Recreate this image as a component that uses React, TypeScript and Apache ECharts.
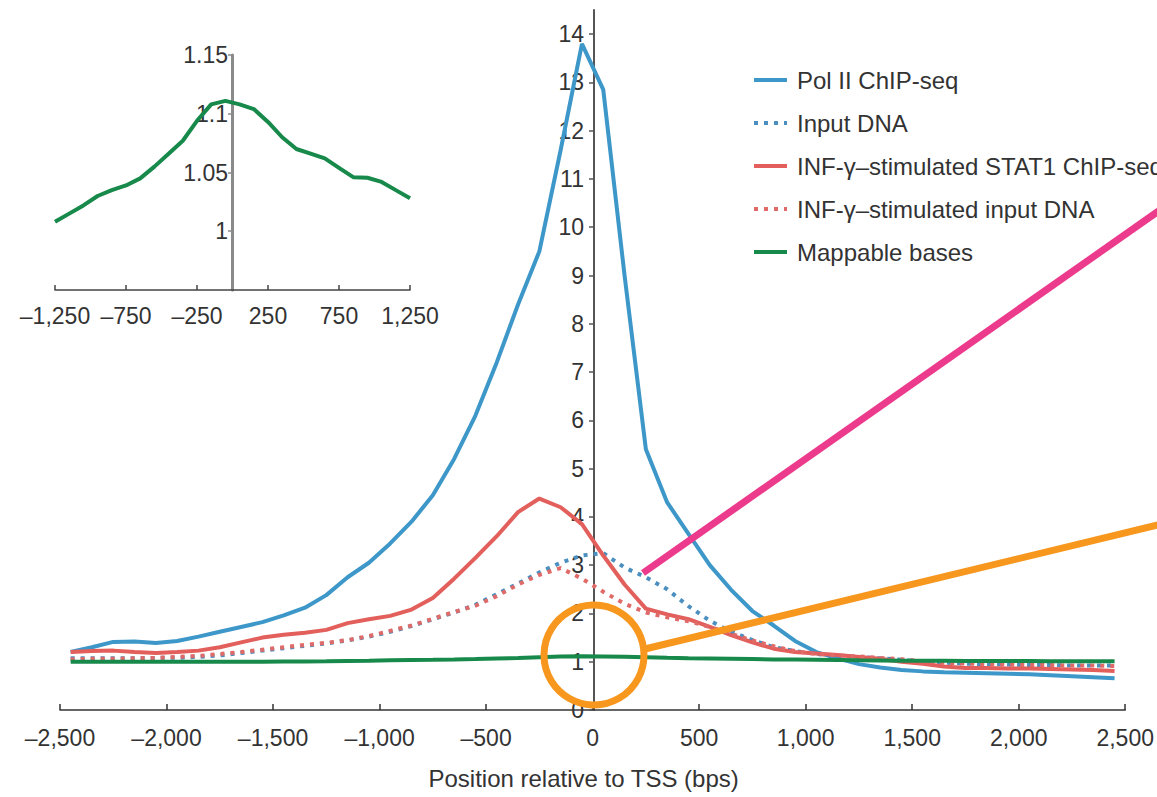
import React, { useEffect, useRef } from "react";
import * as echarts from "echarts";

// Positions relative to TSS (bps), bin centres
const positions = [
  -2450, -2350, -2250, -2150, -2050, -1950, -1850, -1750, -1650, -1550, -1450, -1350, -1250,
  -1150, -1050, -950, -850, -750, -650, -550, -450, -350, -250, -150, -50,
  50, 150, 250, 350, 450, 550, 650, 750, 850, 950, 1050, 1150, 1250,
  1350, 1450, 1550, 1650, 1750, 1850, 1950, 2050, 2150, 2250, 2350, 2450,
];

const polII = [
  1.2, 1.3, 1.41, 1.42, 1.39, 1.43, 1.52, 1.62, 1.72, 1.82, 1.96, 2.12, 2.38, 2.75, 3.05, 3.45, 3.9,
  4.45, 5.2, 6.1, 7.2, 8.4, 9.5, 11.6, 13.8,
  12.85, 9.0, 5.4, 4.3, 3.65, 3.0, 2.49, 2.05, 1.75, 1.43, 1.2, 1.07, 0.95, 0.88, 0.83, 0.8, 0.78,
  0.77, 0.76, 0.75, 0.74, 0.72, 0.7, 0.68, 0.66,
];

const inputDNA = [
  1.07, 1.07, 1.07, 1.07, 1.08, 1.08, 1.1, 1.13, 1.18, 1.23, 1.28, 1.33, 1.38, 1.44, 1.52, 1.62,
  1.74, 1.88, 2.02, 2.18, 2.4, 2.62, 2.85, 3.05, 3.2,
  3.25, 2.95, 2.75, 2.5, 2.15, 1.85, 1.62, 1.45, 1.3, 1.22, 1.16, 1.12, 1.1, 1.07, 1.04, 1.0, 0.98,
  0.96, 0.95, 0.94, 0.93, 0.93, 0.92, 0.92, 0.92,
];

const stat1 = [
  1.2, 1.22, 1.23, 1.2, 1.18, 1.2, 1.23, 1.3, 1.4, 1.5, 1.56, 1.6, 1.66, 1.8, 1.88, 1.95, 2.08,
  2.32, 2.72, 3.15, 3.6, 4.1, 4.38, 4.2, 3.85,
  3.2, 2.6, 2.1, 1.98, 1.88, 1.72, 1.55, 1.4, 1.27, 1.2, 1.17, 1.14, 1.1, 1.06, 1.0, 0.96, 0.9,
  0.87, 0.87, 0.86, 0.86, 0.85, 0.84, 0.83, 0.81,
];

const stat1Input = [
  1.05, 1.06, 1.06, 1.07, 1.08, 1.1, 1.12, 1.16, 1.2, 1.25, 1.3, 1.35, 1.39, 1.45, 1.53, 1.64,
  1.75, 1.89, 2.03, 2.16, 2.36, 2.6, 2.8, 2.94, 2.72,
  2.45, 2.2, 2.02, 1.92, 1.84, 1.72, 1.58, 1.44, 1.32, 1.22, 1.16, 1.13, 1.11, 1.08, 1.05, 1.01,
  0.98, 0.96, 0.95, 0.94, 0.93, 0.93, 0.92, 0.92, 0.91,
];

// Mappable bases: flanks and core (core is also the inset)
const mappableLeft = [1.0, 1.0, 1.0, 1.0, 1.0, 1.0, 1.0, 1.0, 1.0, 1.0, 1.005, 1.005];
const insetPositions = [
  -1250, -1150, -1050, -950, -850, -750, -650, -550, -450, -350, -250, -150, -50,
  50, 150, 250, 350, 450, 550, 650, 750, 850, 950, 1050, 1150, 1250,
];
const mappableCore = [
  1.008, 1.015, 1.022, 1.03, 1.035, 1.039, 1.045, 1.055, 1.066, 1.077, 1.094, 1.108, 1.111,
  1.108, 1.104, 1.093, 1.08, 1.07, 1.066, 1.062, 1.054, 1.046, 1.0455, 1.042, 1.035, 1.028,
];
const mappableRight = [1.025, 1.022, 1.02, 1.018, 1.016, 1.015, 1.014, 1.013, 1.012, 1.011, 1.01, 1.01];

const mainXTicks = [-2500, 2500];
const mainYLabels = [0, 1, 2, 3, 4, 5, 6, 7, 8, 9, 10, 11, 12, 13, 14];
const insetXLabels = [-1250, -750, -250, 250, 750, 1250];
const insetYLabels = [1, 1.05, 1.1, 1.15];

const seriesNames = [
  "Pol II ChIP-seq",
  "Input DNA",
  "INF-\u03b3\u2013stimulated STAT1 ChIP-seq",
  "INF-\u03b3\u2013stimulated input DNA",
  "Mappable bases",
];

const FONT = "'Liberation Sans', Arial, Helvetica, sans-serif";
const TXT = "#333";

function fmtNum(v: number): string {
  const a = Math.abs(v).toLocaleString("en-US");
  return v < 0 ? "\u2013" + a : a;
}

export default function App() {
  const ref = useRef<HTMLDivElement>(null);
  useEffect(() => {
    if (!ref.current) return;
    const chart = echarts.init(ref.current, undefined, { renderer: "svg" });
    const mappable = [...mappableLeft, ...mappableCore, ...mappableRight];
    const pair = (arr: number[]) => positions.map((x, i) => [x, arr[i]]);
    const labelStyle = { fontFamily: FONT, fontSize: 23, color: TXT };
    const dotted = [4, 6];

    chart.setOption({
      animation: false,
      backgroundColor: "#fff",
      textStyle: { fontFamily: FONT },
      grid: [
        { left: 60, right: 29, top: 10, bottom: 87 },
        { left: 55, top: 55, width: 355, height: 235 },
      ],
      xAxis: [
        {
          type: "value",
          gridIndex: 0,
          min: mainXTicks[0],
          max: mainXTicks[1],
          interval: 500,
          axisLine: { onZero: false, lineStyle: { color: "#333", width: 1.5 } },
          axisTick: { inside: true, length: 6, lineStyle: { color: "#333", width: 1.5 } },
          splitLine: { show: false },
          axisLabel: { ...labelStyle, margin: 16, formatter: (v: number) => fmtNum(v) },
          name: "Position relative to TSS (bps)",
          nameLocation: "middle",
          nameGap: 56,
          nameTextStyle: { fontFamily: FONT, fontSize: 24, color: TXT, padding: [0, 18, 0, 0] },
        },
        {
          type: "value",
          gridIndex: 1,
          min: -1250,
          max: 1250,
          axisLine: { onZero: false, lineStyle: { color: "#444", width: 1.5 } },
          axisTick: {
            inside: true,
            length: 5,
            customValues: insetXLabels,
            lineStyle: { color: "#444", width: 1.5 },
          },
          splitLine: { show: false },
          axisLabel: {
            ...labelStyle,
            margin: 14,
            customValues: insetXLabels,
            formatter: (v: number) => fmtNum(v),
          },
        },
      ],
      yAxis: [
        {
          type: "value",
          gridIndex: 0,
          min: 0,
          max: 14.5,
          interval: 1,
          offset: -534,
          axisLine: { show: true, onZero: false, lineStyle: { color: "#555", width: 2 } },
          axisTick: {
            show: true,
            length: 5,
            customValues: mainYLabels,
            lineStyle: { color: "#555", width: 1.5 },
          },
          splitLine: { show: false },
          axisLabel: { ...labelStyle, margin: 10, customValues: mainYLabels },
        },
        {
          type: "value",
          gridIndex: 1,
          min: 0.95,
          max: 1.15,
          offset: -177,
          axisLine: { show: true, onZero: false, lineStyle: { color: "#8a8a8a", width: 3 } },
          axisTick: {
            show: true,
            length: 4,
            customValues: insetYLabels,
            lineStyle: { color: "#8a8a8a", width: 1.5 },
          },
          splitLine: { show: false },
          axisLabel: {
            ...labelStyle,
            margin: 4,
            customValues: insetYLabels,
            formatter: (v: number) => String(Math.round(v * 100) / 100),
          },
        },
      ],
      legend: {
        data: seriesNames,
        orient: "vertical",
        left: 752,
        top: 68,
        padding: 0,
        itemWidth: 33,
        itemHeight: 14,
        itemGap: 19,
        itemStyle: { opacity: 0 },
        lineStyle: { width: 4 },
        textStyle: { fontFamily: FONT, fontSize: 24, color: TXT, padding: [0, 0, 0, 5] },
      },
      series: [
        {
          name: seriesNames[0],
          type: "line",
          data: pair(polII),
          symbol: "none",
          lineStyle: { color: "#3d97c8", width: 4 },
          itemStyle: { color: "#3d97c8" },
        },
        {
          name: seriesNames[1],
          type: "line",
          data: pair(inputDNA),
          symbol: "none",
          lineStyle: { color: "#4a8fc0", width: 4, type: dotted },
          itemStyle: { color: "#4a8fc0" },
        },
        {
          name: seriesNames[2],
          type: "line",
          data: pair(stat1),
          symbol: "none",
          lineStyle: { color: "#e25f5c", width: 4 },
          itemStyle: { color: "#e25f5c" },
        },
        {
          name: seriesNames[3],
          type: "line",
          data: pair(stat1Input),
          symbol: "none",
          lineStyle: { color: "#e06a68", width: 4, type: dotted },
          itemStyle: { color: "#e06a68" },
        },
        {
          name: seriesNames[4],
          type: "line",
          data: pair(mappable),
          symbol: "none",
          lineStyle: { color: "#17894a", width: 4 },
          itemStyle: { color: "#17894a" },
        },
        {
          name: "Mappable bases (inset)",
          type: "line",
          xAxisIndex: 1,
          yAxisIndex: 1,
          data: insetPositions.map((x, i) => [x, mappableCore[i]]),
          symbol: "none",
          lineStyle: { color: "#17894a", width: 4 },
          itemStyle: { color: "#17894a" },
        },
      ],
      graphic: [
        {
          type: "line",
          z: 100,
          shape: { x1: 643, y1: 573, x2: 1170, y2: 203 },
          style: { stroke: "#ec3a8c", lineWidth: 7, lineCap: "butt" },
        },
        {
          type: "line",
          z: 100,
          shape: { x1: 645, y1: 649, x2: 1170, y2: 522 },
          style: { stroke: "#f7971e", lineWidth: 7, lineCap: "butt" },
        },
        {
          type: "circle",
          z: 100,
          shape: { cx: 594, cy: 655, r: 50 },
          style: { fill: "none", stroke: "#f7971e", lineWidth: 7 },
        },
      ],
    });
    return () => chart.dispose();
  }, []);
  return (
    <div
      ref={ref}
      style={{ position: "fixed", left: 0, top: 0, width: 1157, height: 797, background: "#fff" }}
    />
  );
}
